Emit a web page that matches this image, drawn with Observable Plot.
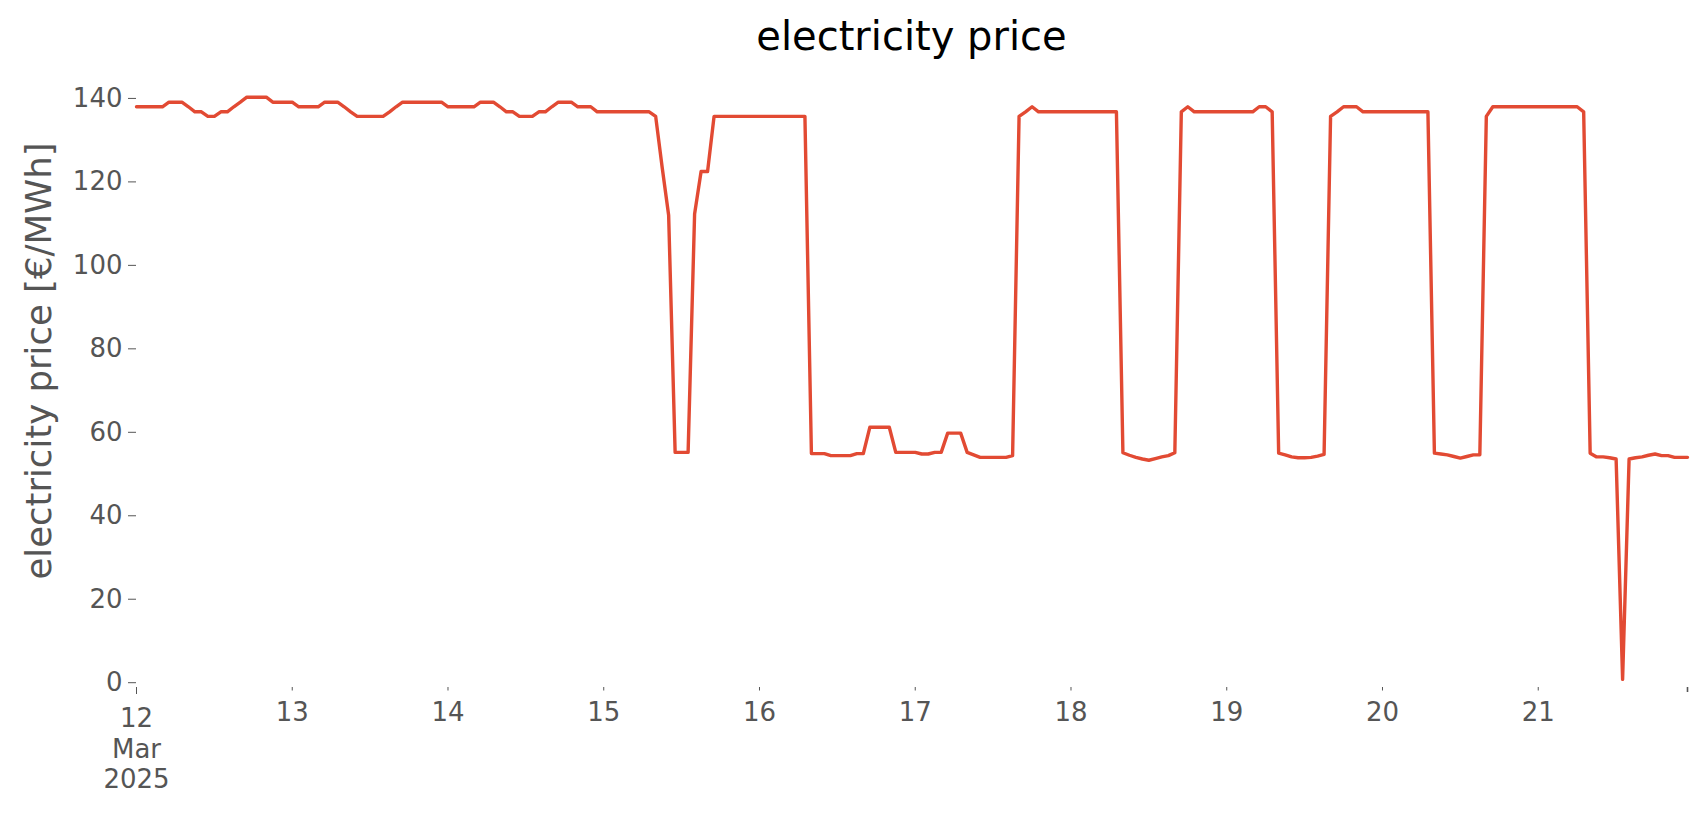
<!DOCTYPE html>
<html>
<head>
<meta charset="utf-8">
<script src="https://cdn.jsdelivr.net/npm/d3@7"></script>
<script src="https://cdn.jsdelivr.net/npm/@observablehq/plot@0.6"></script>
<style>
  body { margin: 0; background: #ffffff; }
  #chart { width: 1706px; height: 815px; }
</style>
</head>
<body>
<div id="chart"></div>
<script>
// ---- data ----
const titleText = "electricity price";
const yLabelText = "electricity price [€/MWh]";
const startTime = "2025-03-12T00:00:00Z";   // first hourly sample
const stepHours = 1;                         // hourly series
// hourly electricity price [€/MWh], 12 Mar 2025 00:00 -> 21 Mar 2025 23:00
const prices = [
  // 12 Mar
  138.0,138.0,138.0,138.0,138.0,139.1,139.1,139.1,138.0,136.8,136.8,135.7,
  135.7,136.8,136.8,138.0,139.1,140.3,140.3,140.3,140.3,139.1,139.1,139.1,
  // 13 Mar
  139.1,138.0,138.0,138.0,138.0,139.1,139.1,139.1,138.0,136.8,135.7,135.7,
  135.7,135.7,135.7,136.8,138.0,139.1,139.1,139.1,139.1,139.1,139.1,139.1,
  // 14 Mar
  138.0,138.0,138.0,138.0,138.0,139.1,139.1,139.1,138.0,136.8,136.8,135.7,
  135.7,135.7,136.8,136.8,138.0,139.1,139.1,139.1,138.0,138.0,138.0,136.8,
  // 15 Mar
  136.8,136.8,136.8,136.8,136.8,136.8,136.8,136.8,135.7,123.5,112.0,55.2,
  55.2,55.2,112.3,122.5,122.5,135.7,135.7,135.7,135.7,135.7,135.7,135.7,
  // 16 Mar
  135.7,135.7,135.7,135.7,135.7,135.7,135.7,135.7,54.9,54.9,54.9,54.4,
  54.4,54.4,54.4,54.9,54.9,61.2,61.2,61.2,61.2,55.2,55.2,55.2,
  // 17 Mar
  55.2,54.8,54.8,55.2,55.2,59.8,59.8,59.8,55.2,54.6,54.0,54.0,
  54.0,54.0,54.0,54.4,135.7,136.8,138.0,136.8,136.8,136.8,136.8,136.8,
  // 18 Mar
  136.8,136.8,136.8,136.8,136.8,136.8,136.8,136.8,55.1,54.5,54.0,53.6,
  53.3,53.7,54.1,54.4,55.1,136.8,138.0,136.8,136.8,136.8,136.8,136.8,
  // 19 Mar
  136.8,136.8,136.8,136.8,136.8,138.0,138.0,136.8,55.0,54.6,54.1,53.9,
  53.9,54.0,54.3,54.7,135.7,136.8,138.0,138.0,138.0,136.8,136.8,136.8,
  // 20 Mar
  136.8,136.8,136.8,136.8,136.8,136.8,136.8,136.8,55.0,54.8,54.6,54.2,
  53.8,54.2,54.6,54.6,135.7,138.0,138.0,138.0,138.0,138.0,138.0,138.0,
  // 21 Mar
  138.0,138.0,138.0,138.0,138.0,138.0,138.0,136.8,55.0,54.1,54.1,53.9,
  53.6,0.8,53.6,53.9,54.1,54.5,54.8,54.4,54.4,54.0,54.0,54.0
];
const yTicks = [0, 20, 40, 60, 80, 100, 120, 140];
const firstDayLabel = "12\nMar\n2025";
const dayTickDates = ["2025-03-13","2025-03-14","2025-03-15","2025-03-16","2025-03-17",
                      "2025-03-18","2025-03-19","2025-03-20","2025-03-21"];

// ---- build table ----
const t0 = new Date(startTime).getTime();
const table = prices.map((p, i) => ({time: new Date(t0 + i * stepHours * 3600e3), price: p}));
const tStart = table[0].time;
const tEnd = table[table.length - 1].time;
const dayTicks = dayTickDates.map(s => new Date(s + "T00:00:00Z"));

const W = 1706, H = 815;
const grey = "#555555";
const lineColor = "#E24A33";

const chart = Plot.plot({
  width: W,
  height: H,
  marginLeft: 136,
  marginRight: 19,
  marginTop: 90,
  marginBottom: 128,
  style: {fontFamily: "DejaVu Sans", background: "#ffffff", overflow: "visible"},
  x: {type: "utc", domain: [tStart, tEnd]},
  y: {domain: [-1.15, 141.9]},
  marks: [
    Plot.axisY({ticks: yTicks, tickSize: 8, tickPadding: 6, fontSize: 26, color: grey, label: null}),
    Plot.axisX({ticks: [tStart], tickSize: 7, tickPadding: 11, fontSize: 26, lineHeight: 1.17,
                color: grey, label: null, tickFormat: () => firstDayLabel}),
    Plot.axisX({ticks: dayTicks, tickSize: 3.5, tickPadding: 11.5, fontSize: 26,
                color: grey, label: null, tickFormat: d => String(d.getUTCDate())}),
    Plot.axisX({ticks: [tEnd], tickSize: 5, strokeWidth: 1.6, color: grey, label: null,
                tickFormat: () => ""}),
    Plot.lineY(table, {x: "time", y: "price", stroke: lineColor, strokeWidth: 3.4,
                       strokeLinejoin: "round", curve: "linear"})
  ]
});

const svg = d3.select(chart);
svg.append("text")
  .attr("x", 911.5).attr("y", 50)
  .attr("text-anchor", "middle")
  .attr("font-family", "DejaVu Sans")
  .attr("font-size", 40)
  .attr("fill", "#000000")
  .text(titleText);
svg.append("text")
  .attr("transform", "translate(51,361) rotate(-90)")
  .attr("text-anchor", "middle")
  .attr("font-family", "DejaVu Sans")
  .attr("font-size", 35.5)
  .attr("fill", grey)
  .text(yLabelText);

document.getElementById("chart").appendChild(chart);
</script>
</body>
</html>
